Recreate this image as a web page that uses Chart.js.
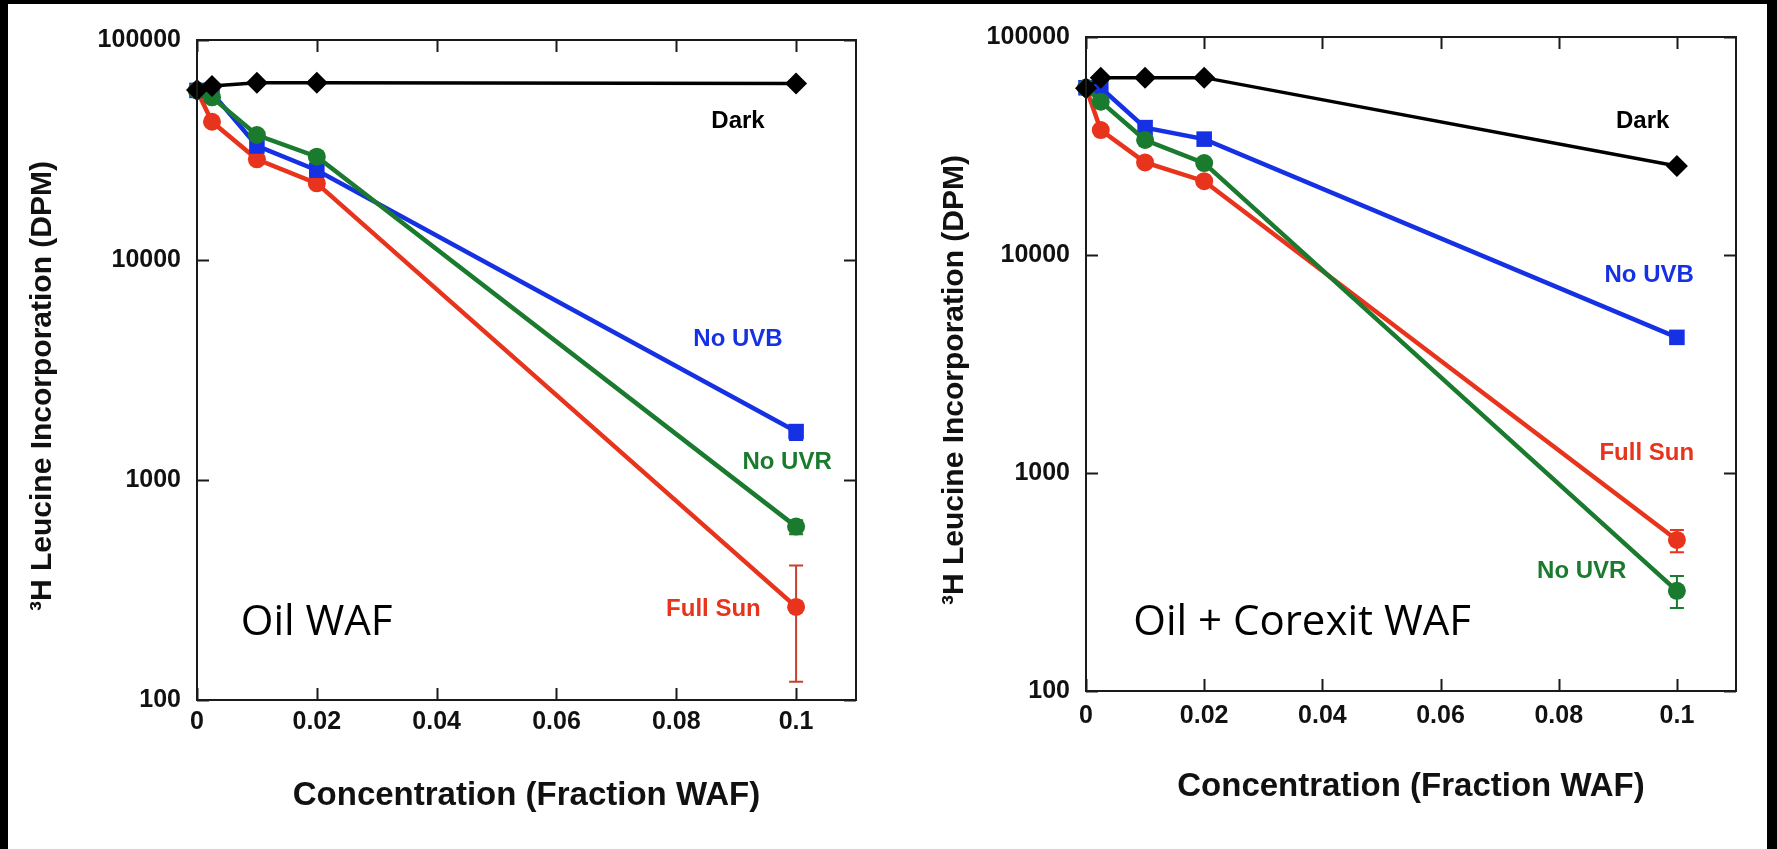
<!DOCTYPE html>
<html>
<head>
<meta charset="utf-8">
<script src="https://cdn.jsdelivr.net/npm/chart.js@4.4.0/dist/chart.umd.min.js"></script>
<style>
	html, body { margin: 0; padding: 0; width: 1777px; height: 849px; overflow: hidden; background: #000; }
	#paper { position: absolute; left: 8px; top: 4px; width: 1759px; height: 845px; background: #fff; }
	canvas { position: absolute; top: 0; }
	#oilChart { left: 0; }
	#corexitChart { left: 890px; }
</style>
</head>
<body>
<div id="paper"></div>
<canvas id="oilChart" width="890" height="849"></canvas>
<canvas id="corexitChart" width="887" height="849"></canvas>
<script>
// concentrations (fraction WAF) and axis ticks
const concentrations = [0, 0.0025, 0.01, 0.02, 0.1];
const xTicks = [0, 0.02, 0.04, 0.06, 0.08, 0.1];
const yTicks = [100, 1000, 10000, 100000];

// Oil WAF, 3H leucine incorporation (DPM)
const oilDark = [59300, 61800, 64000, 64000, 63500];
const oilNoUVR = [59000, 54900, 37000, 29500, 614];
const oilNoUVB = [59000, 57500, 33000, 25600, 1660];
const oilFullSun = [59000, 42500, 28700, 22300, 265];
const oilNoUVRErr = [null, null, null, null, [567, 657]];
const oilNoUVBErr = [null, null, null, null, [1520, 1780]];
const oilFullSunErr = [null, null, null, null, [121, 409]];

// Oil + Corexit WAF
const corDark = [58200, 65100, 65100, 65100, 25600];
const corNoUVR = [58500, 50500, 33700, 26400, 288];
const corNoUVB = [58500, 58500, 38400, 34000, 4190];
const corFullSun = [58500, 37400, 26600, 21800, 493];
const corNoUVRErr = [null, null, null, null, [240, 337]];
const corFullSunErr = [null, null, null, null, [433, 548]];

const seriesNames = ['Dark', 'No UVR', 'No UVB', 'Full Sun'];

const BLACK = '#000000';
const GREEN = '#1a7a2e';
const BLUE = '#1630e4';
const RED = '#e8341c';

const FONT = '"Liberation Sans", Arial, sans-serif';
const Y_TITLE = '\u00b3H Leucine Incorporation (DPM)';

const toPoints = (values) => values.map((v, i) => ({ x: concentrations[i], y: v }));

function dataset(label, values, color, style, radius, width, errors, errColor) {
	return {
		label: label,
		data: toPoints(values),
		borderColor: color,
		backgroundColor: color,
		borderWidth: width,
		pointStyle: style,
		pointRadius: radius,
		pointBorderWidth: 0,
		pointBackgroundColor: color,
		tension: 0,
		clip: false,
		errorBars: errors || null,
		errorColor: errColor || color,
	};
}

// frame, inward ticks, error bars, y title and the text labels inside the plot
const paperPlugin = {
	id: 'paper',
	beforeDatasetsDraw(chart) {
		const ctx = chart.ctx;
		const xs = chart.scales.x;
		const ys = chart.scales.y;
		ctx.save();
		chart.data.datasets.forEach((ds) => {
			if (!ds.errorBars) return;
			ds.errorBars.forEach((e, i) => {
				if (!e) return;
				const px = xs.getPixelForValue(concentrations[i]);
				const lo = ys.getPixelForValue(e[0]);
				const hi = ys.getPixelForValue(e[1]);
				ctx.strokeStyle = ds.errorColor;
				ctx.lineWidth = 2;
				ctx.beginPath();
				ctx.moveTo(px, lo); ctx.lineTo(px, hi);
				ctx.moveTo(px - 7, lo); ctx.lineTo(px + 7, lo);
				ctx.moveTo(px - 7, hi); ctx.lineTo(px + 7, hi);
				ctx.stroke();
			});
		});
		ctx.restore();
	},
	afterDraw(chart, args, opts) {
		const ctx = chart.ctx;
		const a = chart.chartArea;
		const xs = chart.scales.x;
		const ys = chart.scales.y;
		ctx.save();
		ctx.strokeStyle = '#1a1a1a';
		ctx.lineWidth = 2;
		ctx.strokeRect(a.left, a.top, a.right - a.left, a.bottom - a.top);
		ctx.beginPath();
		xTicks.forEach((t) => {
			const px = Math.round(xs.getPixelForValue(t)) + 0.5;
			ctx.moveTo(px, a.bottom); ctx.lineTo(px, a.bottom - 12);
			ctx.moveTo(px, a.top); ctx.lineTo(px, a.top + 12);
		});
		yTicks.forEach((t) => {
			const py = Math.round(ys.getPixelForValue(t)) + 0.5;
			ctx.moveTo(a.left, py); ctx.lineTo(a.left + 12, py);
			ctx.moveTo(a.right, py); ctx.lineTo(a.right - 12, py);
		});
		ctx.stroke();

		// rotated y axis title
		ctx.save();
		ctx.translate(opts.yTitleX, (a.top + a.bottom) / 2 + opts.yTitleShift);
		ctx.rotate(-Math.PI / 2);
		ctx.fillStyle = '#111';
		ctx.font = 'bold 30px ' + FONT;
		ctx.textAlign = 'center';
		ctx.textBaseline = 'middle';
		ctx.fillText(Y_TITLE, 0, 0);
		ctx.restore();

		(opts.labels || []).forEach((l) => {
			ctx.fillStyle = l.color;
			ctx.font = l.font;
			ctx.textAlign = l.align || 'center';
			ctx.textBaseline = 'middle';
			ctx.fillText(l.text, xs.getPixelForValue(l.x), ys.getPixelForValue(l.y));
		});
		ctx.restore();
	},
};

function makeChart(id, sets, pad, labels) {
	return new Chart(document.getElementById(id), {
		type: 'line',
		data: { datasets: sets },
		options: {
			responsive: false,
			animation: false,
			layout: { padding: { top: pad.top, right: pad.right, left: 0, bottom: 0 } },
			plugins: {
				legend: { display: false },
				tooltip: { enabled: false },
				paper: { labels: labels, yTitleX: pad.yTitleX, yTitleShift: 16 },
			},
			scales: {
				x: {
					type: 'linear',
					min: 0,
					max: 0.11,
					afterBuildTicks: (s) => { s.ticks = xTicks.map((v) => ({ value: v })); },
					afterFit: (s) => { s.height = pad.xAxis; },
					grid: { display: false, drawTicks: false },
					border: { display: false },
					ticks: {
						padding: pad.xTick,
						color: '#111',
						font: { family: FONT, size: 25, weight: 'bold' },
						callback: (v) => String(v),
					},
					title: {
						display: true,
						text: 'Concentration (Fraction WAF)',
						color: '#111',
						font: { family: FONT, size: 33, weight: 'bold' },
						padding: { top: 0, bottom: pad.xTitle },
					},
				},
				y: {
					type: 'logarithmic',
					min: 100,
					max: 100000,
					afterBuildTicks: (s) => { s.ticks = yTicks.map((v) => ({ value: v })); },
					afterFit: (s) => { s.width = pad.yAxis; },
					grid: { display: false, drawTicks: false },
					border: { display: false },
					ticks: {
						padding: 16,
						color: '#111',
						font: { family: FONT, size: 25, weight: 'bold' },
						callback: (v) => String(v),
					},
				},
			},
		},
		plugins: [paperPlugin],
	});
}

const labelFont = 'bold 24px ' + FONT;
const boxFont = '42px "Open Sans", "Noto Sans", sans-serif';

makeChart('oilChart', [
	dataset(seriesNames[0], oilDark, BLACK, 'rectRot', 11, 3.5),
	dataset(seriesNames[1], oilNoUVR, GREEN, 'circle', 9, 4.5, oilNoUVRErr),
	dataset(seriesNames[2], oilNoUVB, BLUE, 'rect', 11, 4.5, oilNoUVBErr),
	dataset(seriesNames[3], oilFullSun, RED, 'circle', 9, 4.5, oilFullSunErr, '#c8402c'),
], { top: 40, right: 34, xAxis: 149, yAxis: 197, xTick: 7, xTitle: 33, yTitleX: 43 }, [
	{ text: 'Dark', color: BLACK, font: labelFont, x: 0.0903, y: 42800 },
	{ text: 'No UVB', color: BLUE, font: labelFont, x: 0.0903, y: 4375 },
	{ text: 'No UVR', color: GREEN, font: labelFont, x: 0.0985, y: 1208 },
	{ text: 'Full Sun', color: RED, font: labelFont, x: 0.0862, y: 259 },
	{ text: 'Oil WAF', color: BLACK, font: boxFont, x: 0.0073, y: 224, align: 'left' },
]);

makeChart('corexitChart', [
	dataset(seriesNames[0], corDark, BLACK, 'rectRot', 11, 3.5),
	dataset(seriesNames[1], corNoUVR, GREEN, 'circle', 9, 4.5, corNoUVRErr),
	dataset(seriesNames[2], corNoUVB, BLUE, 'rect', 11, 4.5),
	dataset(seriesNames[3], corFullSun, RED, 'circle', 9, 4.5, corFullSunErr),
], { top: 37, right: 41, xAxis: 158, yAxis: 196, xTick: 10, xTitle: 42, yTitleX: 65 }, [
	{ text: 'Dark', color: BLACK, font: labelFont, x: 0.0942, y: 41200 },
	{ text: 'No UVB', color: BLUE, font: labelFont, x: 0.0953, y: 8090 },
	{ text: 'Full Sun', color: RED, font: labelFont, x: 0.0949, y: 1236 },
	{ text: 'No UVR', color: GREEN, font: labelFont, x: 0.0839, y: 352 },
	{ text: 'Oil + Corexit WAF', color: BLACK, font: boxFont, x: 0.008, y: 205, align: 'left' },
]);
</script>
</body>
</html>
